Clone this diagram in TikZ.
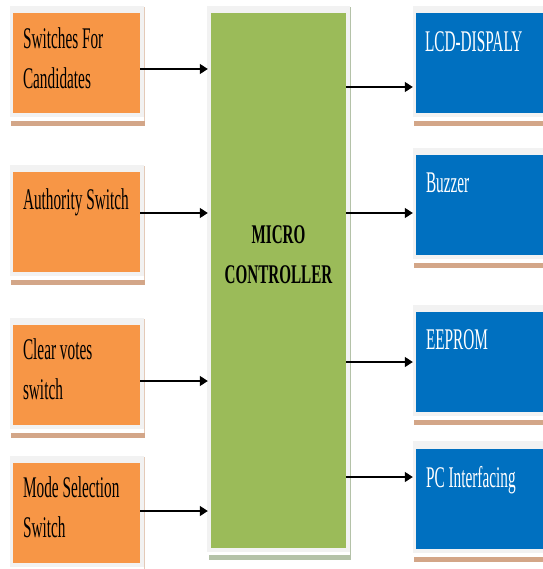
\documentclass[tikz,border=0pt]{standalone}
\usepackage{fontspec}
\newfontfamily\boxfont[FakeStretch=0.51]{Liberation Serif}
\newfontfamily\headfont[FakeStretch=0.56]{Liberation Serif}
\usetikzlibrary{arrows.meta,backgrounds}
\definecolor{swOrange}{HTML}{F79646}
\definecolor{mcGreen}{HTML}{9BBB59}
\definecolor{outBlue}{HTML}{0070C0}
\definecolor{frameGray}{HTML}{F2F2F2}
\definecolor{tanShade}{HTML}{D3A688}
\definecolor{greenShade}{HTML}{B4C2A8}
\tikzset{
  blk/.style={rectangle, inner sep=0pt, minimum width=127pt, minimum height=100pt},
  inbox/.style={blk, fill=swOrange},
  outbox/.style={blk, fill=outBlue},
  txt/.style={anchor=base west, inner sep=0pt, align=left, font=\boxfont\fontsize{30}{40}\selectfont},
  sig/.style={-{Triangle[length=8pt,width=10pt]}, line width=1.4pt, shorten >=3pt},
}

\begin{document}
\begin{tikzpicture}[x=1pt,y=-1pt]
  \useasboundingbox (0,0) rectangle (542,569);
  %Blocks
  \node[inbox] (sw1) at (76.5,63) {};
  \node[inbox] (sw2) at (76.5,222) {};
  \node[inbox] (sw3) at (76.5,375) {};
  \node[inbox] (sw4) at (76.5,513) {};
  \node[rectangle, inner sep=0pt, fill=mcGreen, minimum width=135pt, minimum height=535pt] (mcu) at (278.5,280.5) {};
  \node[outbox] (lcd) at (479.5,63) {};
  \node[outbox] (buz) at (479.5,205) {};
  \node[outbox] (eep) at (479.5,362) {};
  \node[outbox] (pci) at (479.5,498.5) {};
  %Frames and shades
  \begin{scope}[on background layer]
    \foreach \b in {sw1,sw2,sw3,sw4,lcd,buz,eep,pci} {
      \fill[frameGray] ([xshift=-3pt,yshift=7pt]\b.north west) rectangle ([xshift=4pt,yshift=-4pt]\b.south east);
      \fill[tanShade] ([xshift=-2pt,yshift=-8pt]\b.south west) rectangle ([xshift=5pt,yshift=-13pt]\b.south east);
      \fill[tanShade!60] ([xshift=4pt,yshift=6pt]\b.north east) rectangle ([xshift=5pt,yshift=-8pt]\b.south east);
    }
    \fill[frameGray] ([xshift=-4pt,yshift=7pt]mcu.north west) rectangle ([xshift=4pt,yshift=-4pt]mcu.south east);
    \fill[greenShade] ([xshift=-2pt,yshift=-7pt]mcu.south west) rectangle ([xshift=5pt,yshift=-12pt]mcu.south east);
    \fill[greenShade] ([xshift=4pt,yshift=6pt]mcu.north east) rectangle ([xshift=5pt,yshift=-7pt]mcu.south east);
  \end{scope}
  %Texts (base = last line)
  \node[txt] (sw1-t) at ([xshift=10pt,yshift=-76pt]sw1.north west) {Switches For\\Candidates};
  \node[txt] (sw2-t) at ([xshift=10pt,yshift=-38pt]sw2.north west) {Authority Switch};
  \node[txt] (sw3-t) at ([xshift=10pt,yshift=-75pt]sw3.north west) {Clear votes\\switch};
  \node[txt] (sw4-t) at ([xshift=10pt,yshift=-75pt]sw4.north west) {Mode Selection\\Switch};
  \node[txt, anchor=base, align=center, font=\headfont\bfseries\fontsize{27}{40}\selectfont] (mcu-t) at (mcu.center |- 0,283) {MICRO\\CONTROLLER};
  \node[txt, text=white] (lcd-t) at ([xshift=9pt,yshift=-39pt]lcd.north west) {LCD-DISPALY};
  \node[txt, text=white] (buz-t) at ([xshift=10pt,yshift=-38pt]buz.north west) {Buzzer};
  \node[txt, text=white] (eep-t) at ([xshift=10pt,yshift=-38pt]eep.north west) {EEPROM};
  \node[txt, text=white] (pci-t) at ([xshift=10pt,yshift=-39pt]pci.north west) {PC Interfacing};
  %Inputs
  \draw[sig] (sw1.east |- 0,69) -- (mcu.west |- 0,69);
  \draw[sig] (sw2.east |- 0,213) -- (mcu.west |- 0,213);
  \draw[sig] (sw3.east |- 0,381) -- (mcu.west |- 0,381);
  \draw[sig] (sw4.east |- 0,511) -- (mcu.west |- 0,511);
  %Outputs
  \draw[sig] (mcu.east |- 0,87) -- (lcd.west |- 0,87);
  \draw[sig] (mcu.east |- 0,213) -- (buz.west |- 0,213);
  \draw[sig] (mcu.east |- 0,362) -- (eep.west |- 0,362);
  \draw[sig] (mcu.east |- 0,477) -- (pci.west |- 0,477);
\end{tikzpicture}
\end{document}
